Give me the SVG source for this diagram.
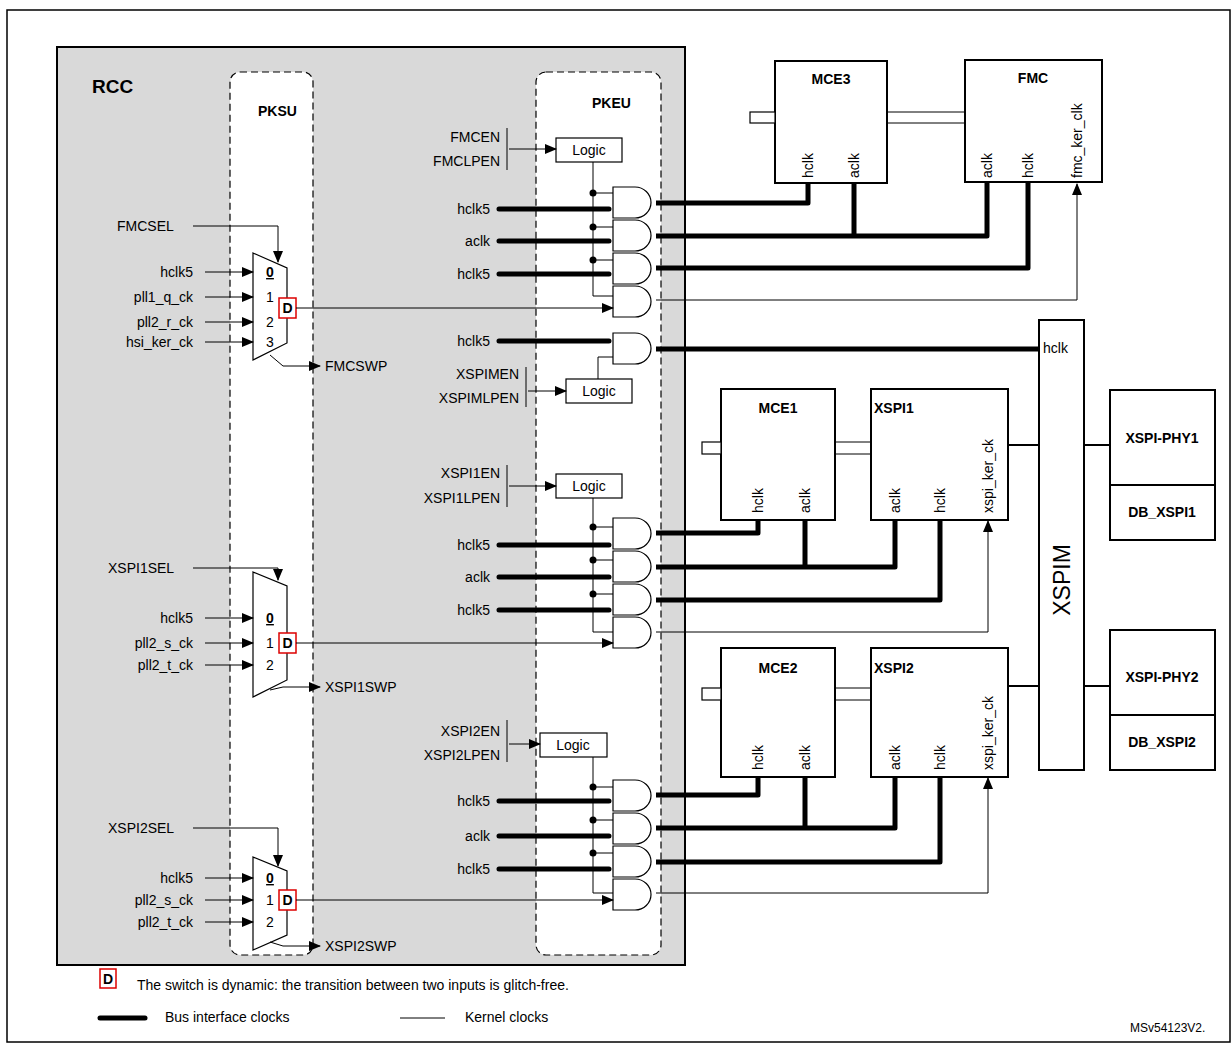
<svg xmlns="http://www.w3.org/2000/svg" width="1232" height="1044" viewBox="0 0 1232 1044">
<defs>
<marker id="ar" markerWidth="12" markerHeight="10" refX="11" refY="5" orient="auto" markerUnits="userSpaceOnUse"><path d="M0,0 L12,5 L0,10 Z" fill="#000"/></marker>
<style>
text{font-family:"Liberation Sans",Arial,sans-serif;font-size:14px;fill:#000}
.b{font-weight:bold}
.r{text-anchor:end}
.m{text-anchor:middle}
.box{fill:#fff;stroke:#000;stroke-width:2}
.thin{fill:none;stroke:#000;stroke-width:1}
.thick{fill:none;stroke:#000;stroke-width:5;stroke-linejoin:round}
.dash{fill:#fff;stroke:#000;stroke-width:1.2;stroke-dasharray:7,4}
.gate{fill:#fff;stroke:#000;stroke-width:1.2}
.dbox{fill:#fff;stroke:#d00;stroke-width:1.5}
.dot{fill:#000}
</style>
</defs>
<rect x="0" y="0" width="1232" height="1044" fill="#fff"/>
<rect x="7" y="10" width="1223" height="1032" fill="none" stroke="#000" stroke-width="1.5"/>
<g id="rcc">
<rect x="57" y="47" width="628" height="918" fill="#d9d9d9" stroke="#000" stroke-width="2"/>
<text x="92" y="93" class="b" style="font-size:19px">RCC</text>
</g>
<g id="pksu"><rect x="230" y="72" width="83" height="883" rx="10" class="dash"/><text x="258" y="116" class="b">PKSU</text></g>
<g id="pkeu"><rect x="536" y="72" width="125" height="883" rx="10" class="dash"/><text x="592" y="108" class="b">PKEU</text></g>

<g id="fmc-mux">
<path d="M253,253 L287,268 L287,343 L253,360 Z" class="gate"/>
<text x="270" y="277" class="m b" text-decoration="underline">0</text>
<text x="270" y="302" class="m">1</text><text x="270" y="327" class="m">2</text><text x="270" y="347" class="m">3</text>
<rect x="279" y="298" width="17" height="20" class="dbox"/><text x="287.5" y="313" class="m b">D</text>
<text x="193" y="277" class="r">hclk5</text><text x="193" y="302" class="r">pll1_q_ck</text><text x="193" y="327" class="r">pll2_r_ck</text><text x="193" y="347" class="r">hsi_ker_ck</text>
<text x="117" y="231">FMCSEL</text><text x="325" y="371">FMCSWP</text>
</g>
<g id="xspi1-mux">
<path d="M253,572 L287,586 L287,680 L253,697 Z" class="gate"/>
<text x="270" y="623" class="m b" text-decoration="underline">0</text>
<text x="270" y="648" class="m">1</text><text x="270" y="670" class="m">2</text>
<rect x="279" y="633" width="17" height="20" class="dbox"/><text x="287.5" y="648" class="m b">D</text>
<text x="193" y="623" class="r">hclk5</text><text x="193" y="648" class="r">pll2_s_ck</text><text x="193" y="670" class="r">pll2_t_ck</text>
<text x="108" y="573">XSPI1SEL</text><text x="325" y="692">XSPI1SWP</text>
</g>
<g id="xspi2-mux">
<path d="M253,857 L287,871 L287,935 L253,950 Z" class="gate"/>
<text x="270" y="883" class="m b" text-decoration="underline">0</text>
<text x="270" y="905" class="m">1</text><text x="270" y="927" class="m">2</text>
<rect x="279" y="890" width="17" height="20" class="dbox"/><text x="287.5" y="905" class="m b">D</text>
<text x="193" y="883" class="r">hclk5</text><text x="193" y="905" class="r">pll2_s_ck</text><text x="193" y="927" class="r">pll2_t_ck</text>
<text x="108" y="833">XSPI2SEL</text><text x="325" y="951">XSPI2SWP</text>
</g>

<g id="logic-fmc"><rect x="556" y="138" width="66" height="24" class="gate"/><text x="589" y="155" class="m">Logic</text>
<text x="500" y="142" class="r">FMCEN</text><text x="500" y="166" class="r">FMCLPEN</text></g>
<g id="logic-xspim"><rect x="566" y="379" width="66" height="24" class="gate"/><text x="599" y="396" class="m">Logic</text>
<text x="519" y="379" class="r">XSPIMEN</text><text x="519" y="403" class="r">XSPIMLPEN</text></g>
<g id="logic-xspi1"><rect x="556" y="474" width="66" height="24" class="gate"/><text x="589" y="491" class="m">Logic</text>
<text x="500" y="478" class="r">XSPI1EN</text><text x="500" y="503" class="r">XSPI1LPEN</text></g>
<g id="logic-xspi2"><rect x="540" y="733" width="67" height="24" class="gate"/><text x="573" y="750" class="m">Logic</text>
<text x="500" y="736" class="r">XSPI2EN</text><text x="500" y="760" class="r">XSPI2LPEN</text></g>

<g id="gates">
<path d="M613,187 H635 A16,15.5 0 0 1 635,218 H613 Z" class="gate"/>
<path d="M613,220 H635 A16,15.5 0 0 1 635,251 H613 Z" class="gate"/>
<path d="M613,253 H635 A16,15.5 0 0 1 635,284 H613 Z" class="gate"/>
<path d="M613,286 H635 A16,15.5 0 0 1 635,317 H613 Z" class="gate"/>
<path d="M613,333 H635 A16,15.5 0 0 1 635,364 H613 Z" class="gate"/>
<path d="M613,518 H635 A16,15.5 0 0 1 635,549 H613 Z" class="gate"/>
<path d="M613,551 H635 A16,15.5 0 0 1 635,582 H613 Z" class="gate"/>
<path d="M613,584 H635 A16,15.5 0 0 1 635,615 H613 Z" class="gate"/>
<path d="M613,617 H635 A16,15.5 0 0 1 635,648 H613 Z" class="gate"/>
<path d="M613,780 H635 A16,15.5 0 0 1 635,811 H613 Z" class="gate"/>
<path d="M613,813 H635 A16,15.5 0 0 1 635,844 H613 Z" class="gate"/>
<path d="M613,846 H635 A16,15.5 0 0 1 635,877 H613 Z" class="gate"/>
<path d="M613,879 H635 A16,15.5 0 0 1 635,910 H613 Z" class="gate"/>
<text x="490" y="214" class="r">hclk5</text><text x="490" y="246" class="r">aclk</text><text x="490" y="279" class="r">hclk5</text>
<text x="490" y="346" class="r">hclk5</text>
<text x="490" y="550" class="r">hclk5</text><text x="490" y="582" class="r">aclk</text><text x="490" y="615" class="r">hclk5</text>
<text x="490" y="806" class="r">hclk5</text><text x="490" y="841" class="r">aclk</text><text x="490" y="874" class="r">hclk5</text>
</g>

<g id="mce3"><rect x="775" y="61" width="112" height="122" class="box"/><text x="831" y="84" class="m b">MCE3</text>
<rect x="750" y="112" width="25" height="11" class="gate"/>
<text transform="translate(813,178) rotate(-90)">hclk</text><text transform="translate(859,178) rotate(-90)">aclk</text></g>
<g id="fmc"><rect x="965" y="60" width="137" height="122" class="box"/><text x="1033" y="83" class="m b">FMC</text>
<text transform="translate(992,178) rotate(-90)">aclk</text><text transform="translate(1033,178) rotate(-90)">hclk</text><text transform="translate(1082,178) rotate(-90)">fmc_ker_clk</text></g>
<g id="mce1"><rect x="721" y="389" width="114" height="131" class="box"/><text x="778" y="413" class="m b">MCE1</text>
<rect x="702" y="442" width="19" height="12" class="gate"/>
<text transform="translate(763,513) rotate(-90)">hclk</text><text transform="translate(810,513) rotate(-90)">aclk</text></g>
<g id="xspi1"><rect x="871" y="389" width="137" height="131" class="box"/><text x="874" y="413" class="b">XSPI1</text>
<text transform="translate(900,513) rotate(-90)">aclk</text><text transform="translate(945,513) rotate(-90)">hclk</text><text transform="translate(993,513) rotate(-90)">xspi_ker_ck</text></g>
<g id="mce2"><rect x="721" y="648" width="114" height="129" class="box"/><text x="778" y="673" class="m b">MCE2</text>
<rect x="702" y="688" width="19" height="12" class="gate"/>
<text transform="translate(763,770) rotate(-90)">hclk</text><text transform="translate(810,770) rotate(-90)">aclk</text></g>
<g id="xspi2"><rect x="871" y="648" width="137" height="129" class="box"/><text x="874" y="673" class="b">XSPI2</text>
<text transform="translate(900,770) rotate(-90)">aclk</text><text transform="translate(945,770) rotate(-90)">hclk</text><text transform="translate(993,770) rotate(-90)">xspi_ker_ck</text></g>
<g id="xspim"><rect x="1039" y="320" width="45" height="450" class="box"/><text x="1043" y="353">hclk</text>
<text transform="translate(1070,580) rotate(-90)" class="m" style="font-size:23px">XSPIM</text></g>
<g id="phy1"><rect x="1110" y="390" width="105" height="150" class="box"/><line x1="1110" y1="485" x2="1215" y2="485" stroke="#000" stroke-width="2"/>
<text x="1162" y="443" class="m b">XSPI-PHY1</text><text x="1162" y="517" class="m b">DB_XSPI1</text></g>
<g id="phy2"><rect x="1110" y="630" width="105" height="140" class="box"/><line x1="1110" y1="715" x2="1215" y2="715" stroke="#000" stroke-width="2"/>
<text x="1162" y="682" class="m b">XSPI-PHY2</text><text x="1162" y="747" class="m b">DB_XSPI2</text></g>

<g id="connectors">
<path d="M205,272H253" class="thin" marker-end="url(#ar)"/>
<path d="M205,297H253" class="thin" marker-end="url(#ar)"/>
<path d="M205,322H253" class="thin" marker-end="url(#ar)"/>
<path d="M205,342H253" class="thin" marker-end="url(#ar)"/>
<path d="M205,618H253" class="thin" marker-end="url(#ar)"/>
<path d="M205,643H253" class="thin" marker-end="url(#ar)"/>
<path d="M205,665H253" class="thin" marker-end="url(#ar)"/>
<path d="M205,878H253" class="thin" marker-end="url(#ar)"/>
<path d="M205,900H253" class="thin" marker-end="url(#ar)"/>
<path d="M205,922H253" class="thin" marker-end="url(#ar)"/>
<path d="M193,226H278V262" class="thin" marker-end="url(#ar)"/>
<path d="M193,568H278V580" class="thin" marker-end="url(#ar)"/>
<path d="M193,828H278V866" class="thin" marker-end="url(#ar)"/>
<path d="M270,355L283,366H320" class="thin" marker-end="url(#ar)"/>
<path d="M270,690L283,687H320" class="thin" marker-end="url(#ar)"/>
<path d="M270,942L283,946H320" class="thin" marker-end="url(#ar)"/>
<path d="M296,308H613" class="thin" marker-end="url(#ar)"/>
<path d="M296,643H613" class="thin" marker-end="url(#ar)"/>
<path d="M296,900H613" class="thin" marker-end="url(#ar)"/>
<path d="M507,128V170M526,367V407M507,465V507M507,720V762" class="thin"/>
<path d="M509,149H556" class="thin" marker-end="url(#ar)"/>
<path d="M528,391H566" class="thin" marker-end="url(#ar)"/>
<path d="M509,486H556" class="thin" marker-end="url(#ar)"/>
<path d="M509,744H540" class="thin" marker-end="url(#ar)"/>
<path d="M593,162V296H613M593,193H613M593,227H613M593,260H613" class="thin"/>
<path d="M598,379V357H613" class="thin"/>
<path d="M593,498V632H613M593,527H613M593,560H613M593,594H613" class="thin"/>
<path d="M593,757V893H613M593,787H613M593,820H613M593,853H613" class="thin"/>
<circle cx="593" cy="193" r="3.5" class="dot"/><circle cx="593" cy="227" r="3.5" class="dot"/><circle cx="593" cy="260" r="3.5" class="dot"/>
<circle cx="593" cy="527" r="3.5" class="dot"/><circle cx="593" cy="560" r="3.5" class="dot"/><circle cx="593" cy="594" r="3.5" class="dot"/>
<circle cx="593" cy="787" r="3.5" class="dot"/><circle cx="593" cy="820" r="3.5" class="dot"/><circle cx="593" cy="853" r="3.5" class="dot"/>
<path d="M499,209H609M499,241H609M499,274H609M499,341H609M499,545H609M499,577H609M499,610H609M499,801H609M499,836H609M499,869H609" class="thick" stroke-linecap="round"/>
<path d="M656,203H808V183M656,236H987V182M854,183V236M656,268H1028V182M656,349H1039" class="thick"/>
<path d="M656,300H1077V184" class="thin" marker-end="url(#ar)"/>
<path d="M656,533H758V520M656,567H895V520M805,520V567M656,600H940V520" class="thick"/>
<path d="M656,632H988V521" class="thin" marker-end="url(#ar)"/>
<path d="M656,795H758V777M656,828H895V777M805,777V828M656,862H940V777" class="thick"/>
<path d="M656,893H988V778" class="thin" marker-end="url(#ar)"/>
<path d="M887,112H965M887,123H965M835,442H871M835,454H871M835,688H871M835,700H871" class="thin"/>
<path d="M1008,445H1039M1084,445H1110M1008,686H1039M1084,686H1110" fill="none" stroke="#000" stroke-width="2"/>
</g>

<g id="legend">
<rect x="100" y="969" width="16" height="19" class="dbox"/><text x="108" y="984" class="m b">D</text>
<text x="137" y="990">The switch is dynamic: the transition between two inputs is glitch-free.</text>
<line x1="100" y1="1018" x2="145" y2="1018" stroke="#000" stroke-width="5" stroke-linecap="round"/>
<text x="165" y="1022">Bus interface clocks</text>
<line x1="400" y1="1018" x2="445" y2="1018" stroke="#000" stroke-width="1"/>
<text x="465" y="1022">Kernel clocks</text>
<text x="1130" y="1032" style="font-size:12px">MSv54123V2.</text>
</g>
</svg>
